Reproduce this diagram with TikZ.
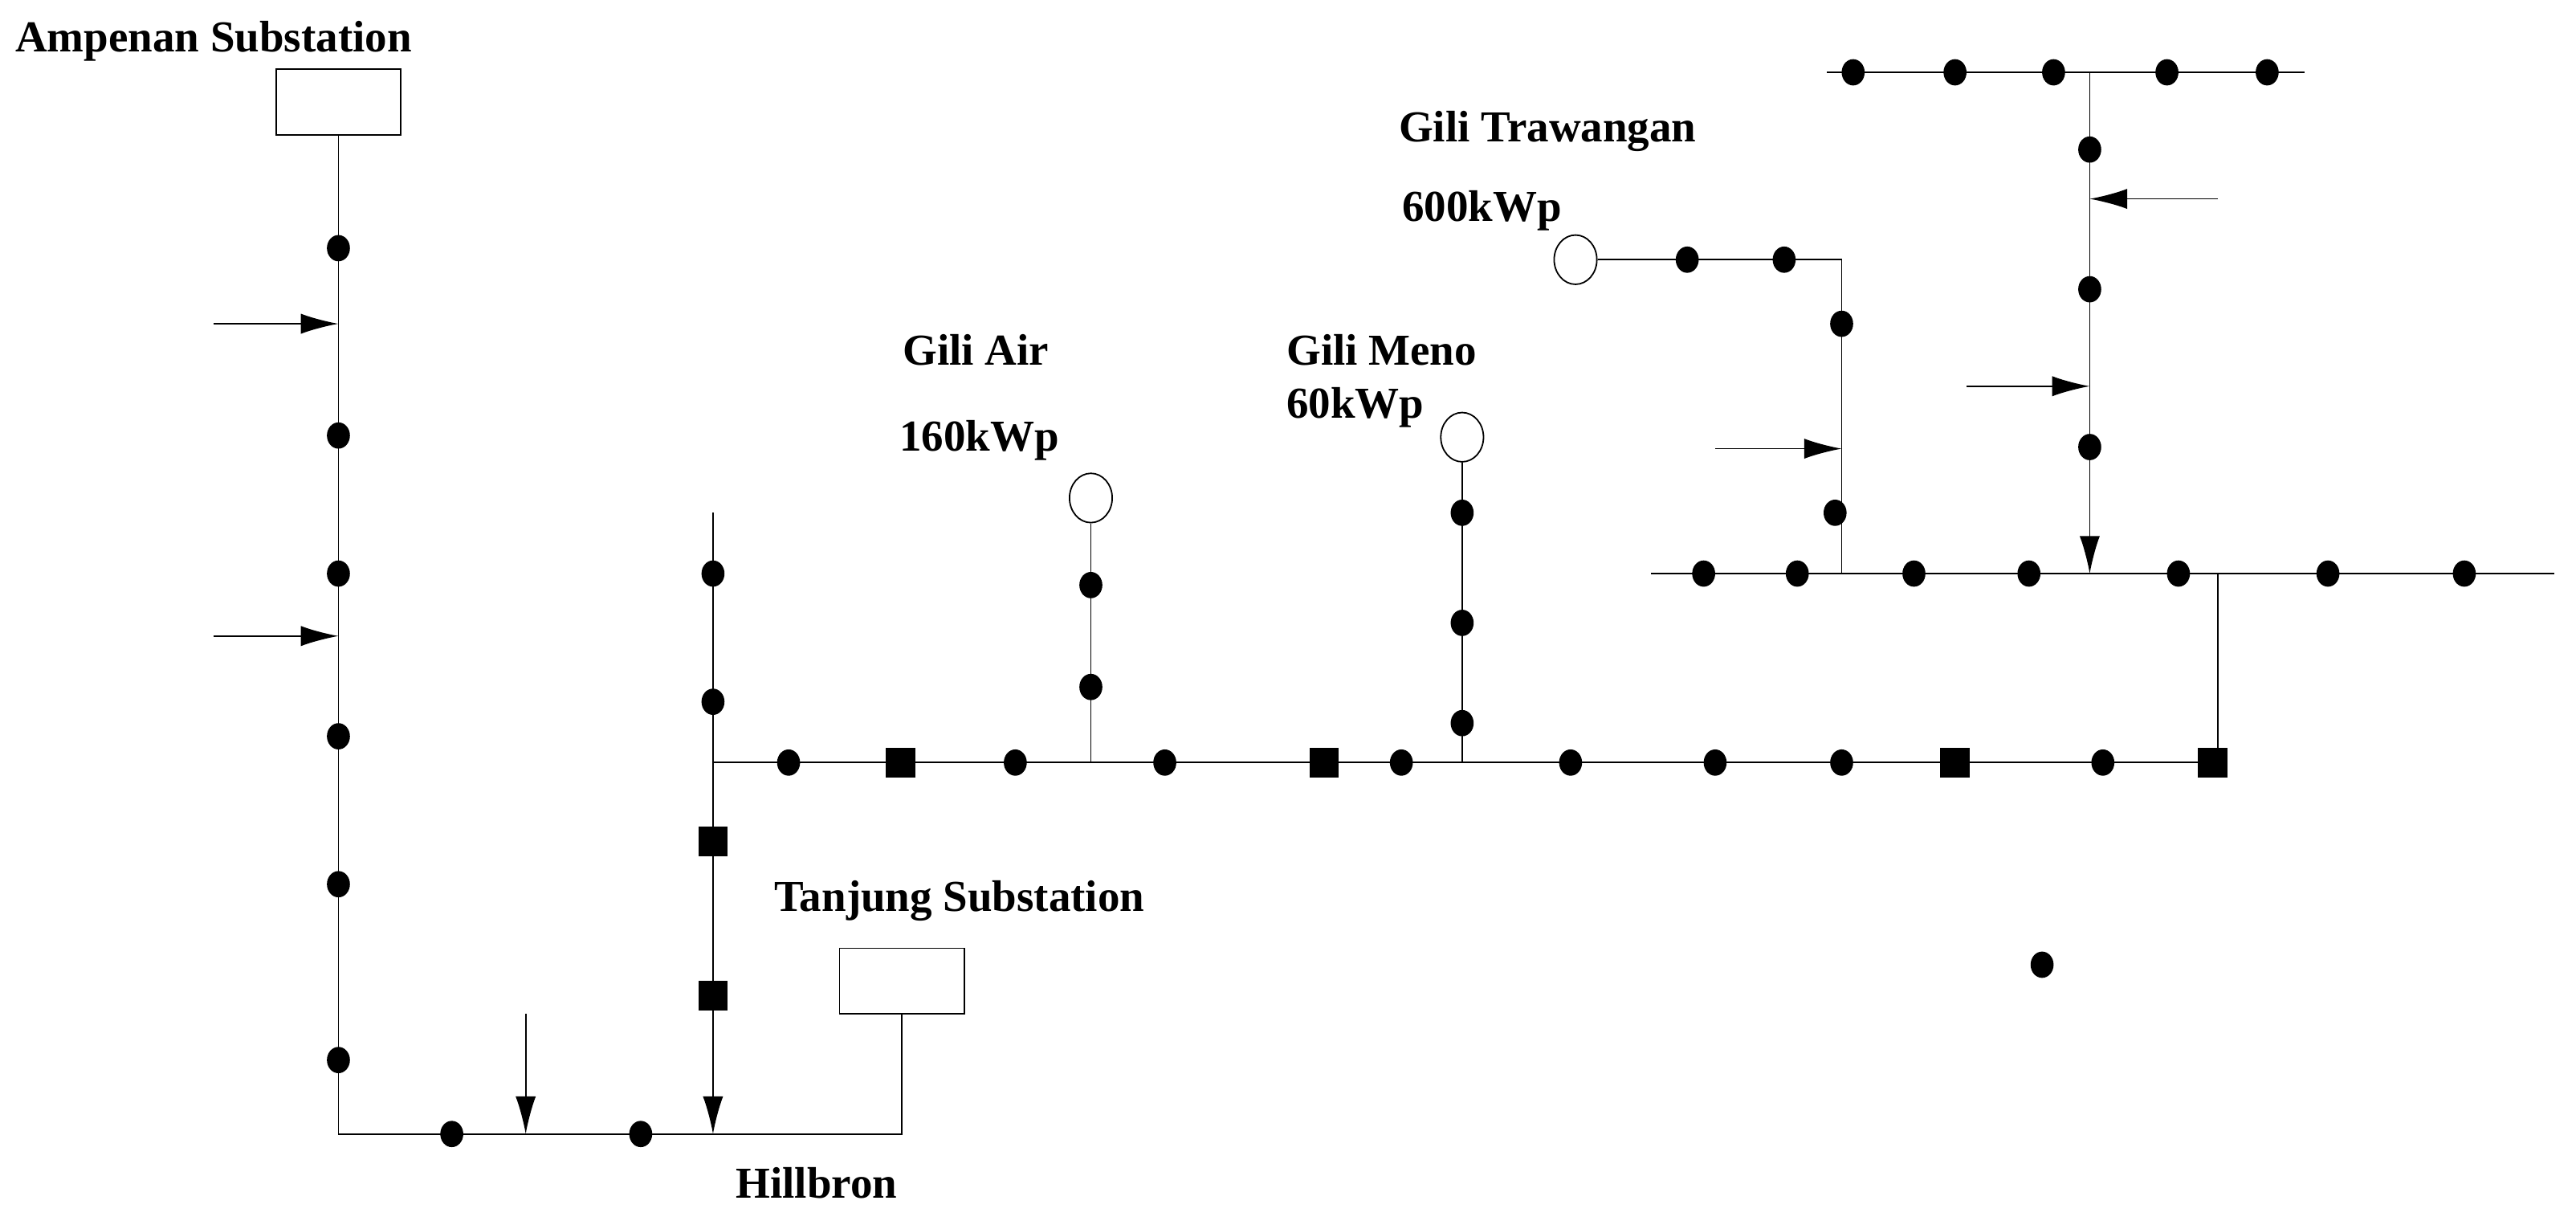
\documentclass[tikz,border=0pt]{standalone}
\usepackage{fontspec}
\setmainfont{Liberation Serif}
\usetikzlibrary{arrows.meta,shapes.geometric}
\begin{document}
\begin{tikzpicture}[x=0.02cm,y=-0.02cm,line width=0.5pt,
 dotn/.style={ellipse,fill=black,minimum width=14*0.02cm,minimum height=16*0.02cm,inner sep=0pt},
 sq/.style={rectangle,fill=black,minimum size=18*0.02cm,inner sep=0pt},
 pv/.style={ellipse,draw,fill=white,minimum width=26*0.02cm,minimum height=30*0.02cm,inner sep=0pt},
 sub/.style={rectangle,draw,fill=white,minimum width=76*0.02cm,minimum height=40*0.02cm,inner sep=0pt},
 lbl/.style={font=\bfseries\fontsize{15.3}{17}\selectfont,inner sep=0pt},
 arr/.style={-{Latex[length=13pt,width=7pt]}}]
\useasboundingbox (0,0) rectangle (1568,745);
% substations
\node[sub] (amp) at (206,62) {};
\node[sub] (tan) at (549,597) {};
\coordinate (c1) at (206,690); \coordinate (c2) at (549,690);
\draw (amp) -- (c1) -- (c2) -- (tan);
\node[lbl] at (130,25) {Ampenan Substation};
\node[lbl] at (584,548) {Tanjung Substation};
\node[lbl] at (497,720) {Hillbron};
% left dots
\foreach \y [count=\i] in {151,265,349,448,538,645} \node[dotn] (l\i) at (206,\y) {};
\coordinate (la1) at (130,197); \coordinate (lb1) at (206,197);
\coordinate (la2) at (130,387); \coordinate (lb2) at (206,387);
\draw[arr] (la1) -- (lb1); \draw[arr] (la2) -- (lb2);
\node[dotn] (b1) at (275,690) {}; \node[dotn] (b2) at (390,690) {};
\coordinate (ba) at (320,617); \coordinate (bb) at (320,690);
\draw[arr] (ba) -- (bb);
% vertical 434
\coordinate (v0) at (434,312); \coordinate (v1) at (434,690); \coordinate (j) at (434,464);
\draw[arr] (v0) -- (v1);
\node[dotn] (v2) at (434,349) {}; \node[dotn] (v3) at (434,427) {};
\node[sq] (v4) at (434,512) {}; \node[sq] (v5) at (434,606) {};
% main horizontal
\coordinate (e1) at (1350,464); \coordinate (e2) at (1350,349);
\draw (j) -- (e1) -- (e2);
\foreach \x [count=\i] in {480,618,709,853,956,1044,1121,1280} \node[dotn] (m\i) at (\x,464) {};
\foreach \x [count=\i] in {548,806,1190,1347} \node[sq] (s\i) at (\x,464) {};
% Gili Air
\node[pv] (ga) at (664,303) {}; \coordinate (gab) at (664,464);
\draw (gab) -- (ga);
\node[dotn] (ga1) at (664,356) {}; \node[dotn] (ga2) at (664,418) {};
\node[lbl] at (594,213) {Gili Air}; \node[lbl] at (596,268) {160kWp};
% Gili Meno
\node[pv] (gm) at (890,266) {}; \coordinate (gmb) at (890,464);
\draw (gmb) -- (gm);
\foreach \y [count=\i] in {312,379,440} \node[dotn] (gm\i) at (890,\y) {};
\node[lbl] at (841,213) {Gili Meno}; \node[lbl] at (825,248) {60kWp};
% upper horizontal
\coordinate (u0) at (1005,349); \coordinate (u1) at (1555,349);
\draw (u0) -- (u1);
\foreach \x [count=\i] in {1037,1094,1165,1235,1326,1417,1500} \node[dotn] (u\i) at (\x,349) {};
% Gili Trawangan
\node[pv] (gt) at (959,158) {};
\coordinate (t1) at (1121,158); \coordinate (t2) at (1121,349);
\draw (gt) -- (t1) -- (t2);
\node[dotn] (gt1) at (1027,158) {}; \node[dotn] (gt2) at (1086,158) {};
\node[dotn] (gt3) at (1121,197) {}; \node[dotn] (gt4) at (1117,312) {};
\coordinate (ta) at (1044,273); \coordinate (tb) at (1121,273);
\draw[arr] (ta) -- (tb);
\node[lbl] at (942,80) {Gili Trawangan}; \node[lbl] at (902,128) {600kWp};
% top
\coordinate (p0) at (1112,44); \coordinate (p1) at (1403,44);
\draw (p0) -- (p1);
\foreach \x [count=\i] in {1128,1190,1250,1319,1380} \node[dotn] (p\i) at (\x,44) {};
\coordinate (q0) at (1272,44); \coordinate (q1) at (1272,349);
\draw[arr] (q0) -- (q1);
\foreach \y [count=\i] in {91,176,272} \node[dotn] (q\i) at (1272,\y) {};
\coordinate (ra) at (1350,121); \coordinate (rb) at (1272,121);
\draw[arr] (ra) -- (rb);
\coordinate (sa) at (1197,235); \coordinate (sb) at (1272,235);
\draw[arr] (sa) -- (sb);
\node[dotn] (iso) at (1243,587) {};
\end{tikzpicture}
\end{document}
